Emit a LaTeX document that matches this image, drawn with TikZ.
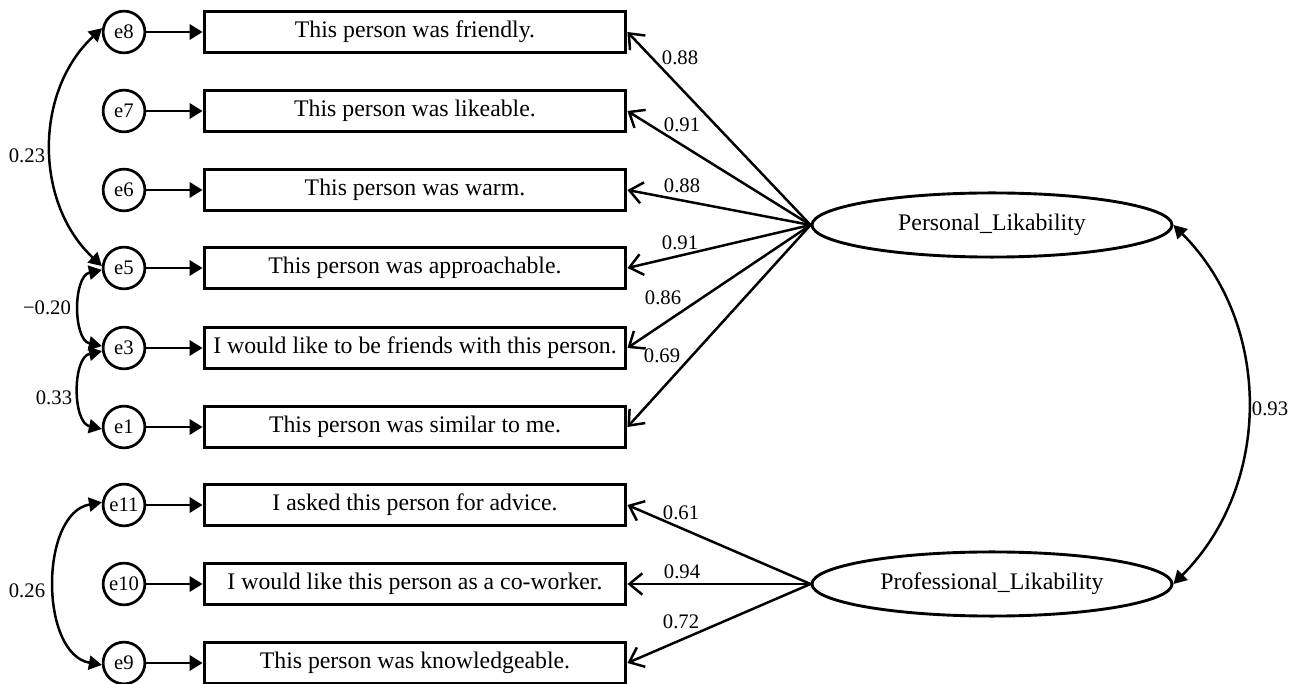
\documentclass[tikz,border=0pt]{standalone}
\usepackage{fontspec}
\setmainfont{Liberation Serif}
\usetikzlibrary{arrows.meta,shapes.geometric}

\tikzset{
  item/.style={draw, line width=1.5pt, minimum width=7.17cm, minimum height=0.71cm, inner sep=0pt, font=\fontsize{11.5}{13}\selectfont},
  err/.style={draw, circle, line width=1.3pt, minimum size=0.71cm, inner sep=0pt, font=\fontsize{10}{12}\selectfont},
  factor/.style={draw, ellipse, line width=1.4pt, minimum width=6.12cm, minimum height=1.09cm, inner sep=0pt, font=\fontsize{11.5}{14}\selectfont},
  resid/.style={-{Triangle[length=2.2mm,width=2.6mm]}, line width=1.2pt},
  load/.style={-{Straight Barb[length=2.2mm,width=3.6mm]}, line width=1.2pt},
  cov/.style={{Triangle[length=2.2mm,width=2.4mm]}-{Triangle[length=2.2mm,width=2.4mm]}, line width=1.2pt},
  wt/.style={inner sep=1pt, font=\fontsize{10}{12}\selectfont}
}

\begin{document}
\begin{tikzpicture}[x=1.7cm,y=1.7cm]
\useasboundingbox (0,0) rectangle (12.95,-6.84);

% indicators and error terms
\node[err] (e8) at (1.24,-0.32) {e8};
\node[err] (e7) at (1.24,-1.11) {e7};
\node[err] (e6) at (1.24,-1.90) {e6};
\node[err] (e5) at (1.24,-2.68) {e5};
\node[err] (e3) at (1.24,-3.48) {e3};
\node[err] (e1) at (1.24,-4.27) {e1};
\node[err] (e11) at (1.24,-5.05) {e11};
\node[err] (e10) at (1.24,-5.84) {e10};
\node[err] (e9) at (1.24,-6.63) {e9};

\node[item] (b8) at (4.15,-0.32) {This person was friendly.};
\node[item] (b7) at (4.15,-1.11) {This person was likeable.};
\node[item] (b6) at (4.15,-1.90) {This person was warm.};
\node[item] (b5) at (4.15,-2.68) {This person was approachable.};
\node[item] (b3) at (4.15,-3.48) {I would like to be friends with this person.};
\node[item] (b1) at (4.15,-4.27) {This person was similar to me.};
\node[item] (b11) at (4.15,-5.05) {I asked this person for advice.};
\node[item] (b10) at (4.15,-5.84) {I would like this person as a co-worker.};
\node[item] (b9) at (4.15,-6.63) {This person was knowledgeable.};

% latent factors
\node[factor] (pl) at (9.92,-2.25) {Personal\_Likability};
\node[factor] (prl) at (9.92,-5.84) {Professional\_Likability};

\draw[resid] (e8) -- (b8);
\draw[resid] (e7) -- (b7);
\draw[resid] (e6) -- (b6);
\draw[resid] (e5) -- (b5);
\draw[resid] (e3) -- (b3);
\draw[resid] (e1) -- (b1);
\draw[resid] (e11) -- (b11);
\draw[resid] (e10) -- (b10);
\draw[resid] (e9) -- (b9);

\draw[load] (pl.west) -- (b8.east);
\draw[load] (pl.west) -- (b7.east);
\draw[load] (pl.west) -- (b6.east);
\draw[load] (pl.west) -- (b5.east);
\draw[load] (pl.west) -- (b3.east);
\draw[load] (pl.west) -- (b1.east);
\draw[load] (prl.west) -- (b11.east);
\draw[load] (prl.west) -- (b10.east);
\draw[load] (prl.west) -- (b9.east);

\node[wt] (w8) at (6.80,-0.58) {0.88};
\node[wt] (w7) at (6.82,-1.25) {0.91};
\node[wt] (w6) at (6.82,-1.86) {0.88};
\node[wt] (w5) at (6.80,-2.43) {0.91};
\node[wt] (w3) at (6.63,-2.98) {0.86};
\node[wt] (w1) at (6.62,-3.56) {0.69};
\node[wt] (w11) at (6.81,-5.13) {0.61};
\node[wt] (w10) at (6.82,-5.72) {0.94};
\node[wt] (w9) at (6.81,-6.22) {0.72};

% covariances
\draw[cov] (e8.170) to[bend right=47] (e5.175);
\draw[cov] (e5.185) to[bend right=78] (e3.175);
\draw[cov] (e3.188) to[bend right=78] (e1.185);
\draw[cov] (e11.173) to[bend right=80] (e9.185);
\draw[cov] (pl.east) to[bend left=45] (prl.east);

\node[wt] (c85) at (0.27,-1.56) {0.23};
\node[wt] (c53) at (0.47,-3.08) {−0.20};
\node[wt] (c31) at (0.54,-3.98) {0.33};
\node[wt] (c119) at (0.27,-5.91) {0.26};
\node[wt] (cf) at (12.70,-4.09) {0.93};

\end{tikzpicture}
\end{document}
